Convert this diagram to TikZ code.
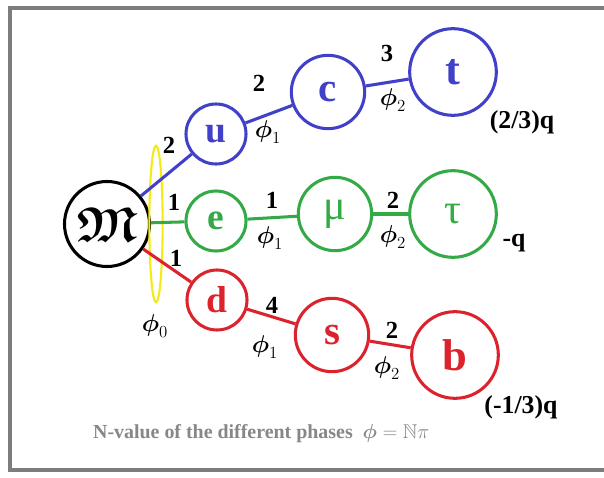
\documentclass[tikz,border=0pt]{standalone}
\usepackage{amsmath, amssymb}
\usepackage{fontspec}
\setmainfont{Liberation Serif}
\definecolor{upblue}{RGB}{64,64,200}
\definecolor{leptongreen}{RGB}{52,170,70}
\definecolor{downred}{RGB}{220,35,45}
\definecolor{ringyellow}{RGB}{245,235,20}
\definecolor{framegray}{RGB}{125,125,125}
\definecolor{notegray}{RGB}{135,135,135}
\usetikzlibrary{shapes.geometric}

\begin{document}
\begin{tikzpicture}[x=0.03cm, y=-0.03cm,
  particle/.style={circle, draw=#1, line width=2.6pt, text=#1, inner sep=0pt},
  small/.style={minimum size=1.8cm, font=\bfseries\fontsize{32}{32}\selectfont},
  medium/.style={minimum size=2.2cm, font=\bfseries\fontsize{35}{35}\selectfont},
  large/.style={minimum size=2.6cm, font=\bfseries\fontsize{38}{38}\selectfont},
  bond/.style={line width=2.6pt, draw=#1},
  nval/.style={font=\bfseries\fontsize{21}{21}\selectfont},
  phase/.style={font=\fontsize{21}{21}\selectfont},
  charge/.style={font=\bfseries\fontsize{22}{22}\selectfont}]
  % canvas and frame (pixel coordinates, y down)
  \useasboundingbox (0,0) rectangle (604,478);
  \fill[white] (0,0) rectangle (604,478);
  \draw[framegray, line width=2.6pt] (10,8) rectangle (620,470);

  % source of the three families
  \node[circle, draw=black, line width=2.6pt, minimum size=2.55cm, inner sep=0pt] (mass) at (107,224)
    {\fontsize{42}{42}\selectfont$\boldsymbol{\mathfrak{M}}$};
  \node[ellipse, draw=ringyellow, line width=1.8pt, minimum width=0.4cm, minimum height=4.7cm, inner sep=0pt] (phz0) at (156,224) {};
  \node[phase] (phi0) at (155,326) {$\boldsymbol{\phi}_0$};

  % quarks, charge (2/3)q
  \node[particle=upblue, small] (u) at (216,134) {u};
  \node[particle=upblue, medium] (c) at (328,92) {c};
  \node[particle=upblue, large] (t) at (453,72) {t};
  % leptons, charge -q
  \node[particle=leptongreen, small] (e) at (216,221) {e};
  \node[particle=leptongreen, medium, font=\fontsize{36}{36}\selectfont] (mu) at (335,214) {μ};
  \node[particle=leptongreen, large, font=\fontsize{36}{36}\selectfont] (tau) at (453,214) {τ};
  % quarks, charge (-1/3)q
  \node[particle=downred, small] (d) at (217,300) {d};
  \node[particle=downred, medium] (s) at (332,335) {s};
  \node[particle=downred, large] (b) at (455,355) {b};

  % bonds
  \draw[bond=upblue] (mass) -- (u);
  \draw[bond=upblue] (u) -- (c);
  \draw[bond=upblue] (c) -- (t);
  \draw[bond=leptongreen] (mass) -- (e);
  \draw[bond=leptongreen] (e) -- (mu);
  \draw[bond=leptongreen] (mu) -- (tau);
  \draw[bond=downred] (mass) -- (d);
  \draw[bond=downred] (d) -- (s);
  \draw[bond=downred] (s) -- (b);

  % N-values above, phases below
  \node[nval] (n0u) at (169,145) {2};
  \node[nval] (n0e) at (174,202) {1};
  \node[nval] (n0d) at (176,258) {1};
  \node[nval] (nuc) at (259,83) {2};
  \node[phase] (puc) at (268,132) {$\boldsymbol{\phi}_1$};
  \node[nval] (nct) at (387,53) {3};
  \node[phase] (pct) at (393,100) {$\boldsymbol{\phi}_2$};
  \node[nval] (nemu) at (272,200) {1};
  \node[phase] (pemu) at (270,238) {$\boldsymbol{\phi}_1$};
  \node[nval] (nmutau) at (393,200) {2};
  \node[phase] (pmutau) at (393,237) {$\boldsymbol{\phi}_2$};
  \node[nval] (nds) at (272,305) {4};
  \node[phase] (pds) at (265,347) {$\boldsymbol{\phi}_1$};
  \node[nval] (nsb) at (392,330) {2};
  \node[phase] (psb) at (387,368) {$\boldsymbol{\phi}_2$};

  % charges
  \node[charge] (qup) at (522,122) {(2/3)q};
  \node[charge] (qlep) at (514,243) {-q};
  \node[charge] (qdown) at (521,407) {(-1/3)q};

  % note
  \node[text=notegray, font=\bfseries\fontsize{17}{17}\selectfont, anchor=west] (note) at (89,434)
    {N-value of the different phases \ $\boldsymbol{\phi}=\mathbb{N}\pi$};
\end{tikzpicture}
\end{document}
